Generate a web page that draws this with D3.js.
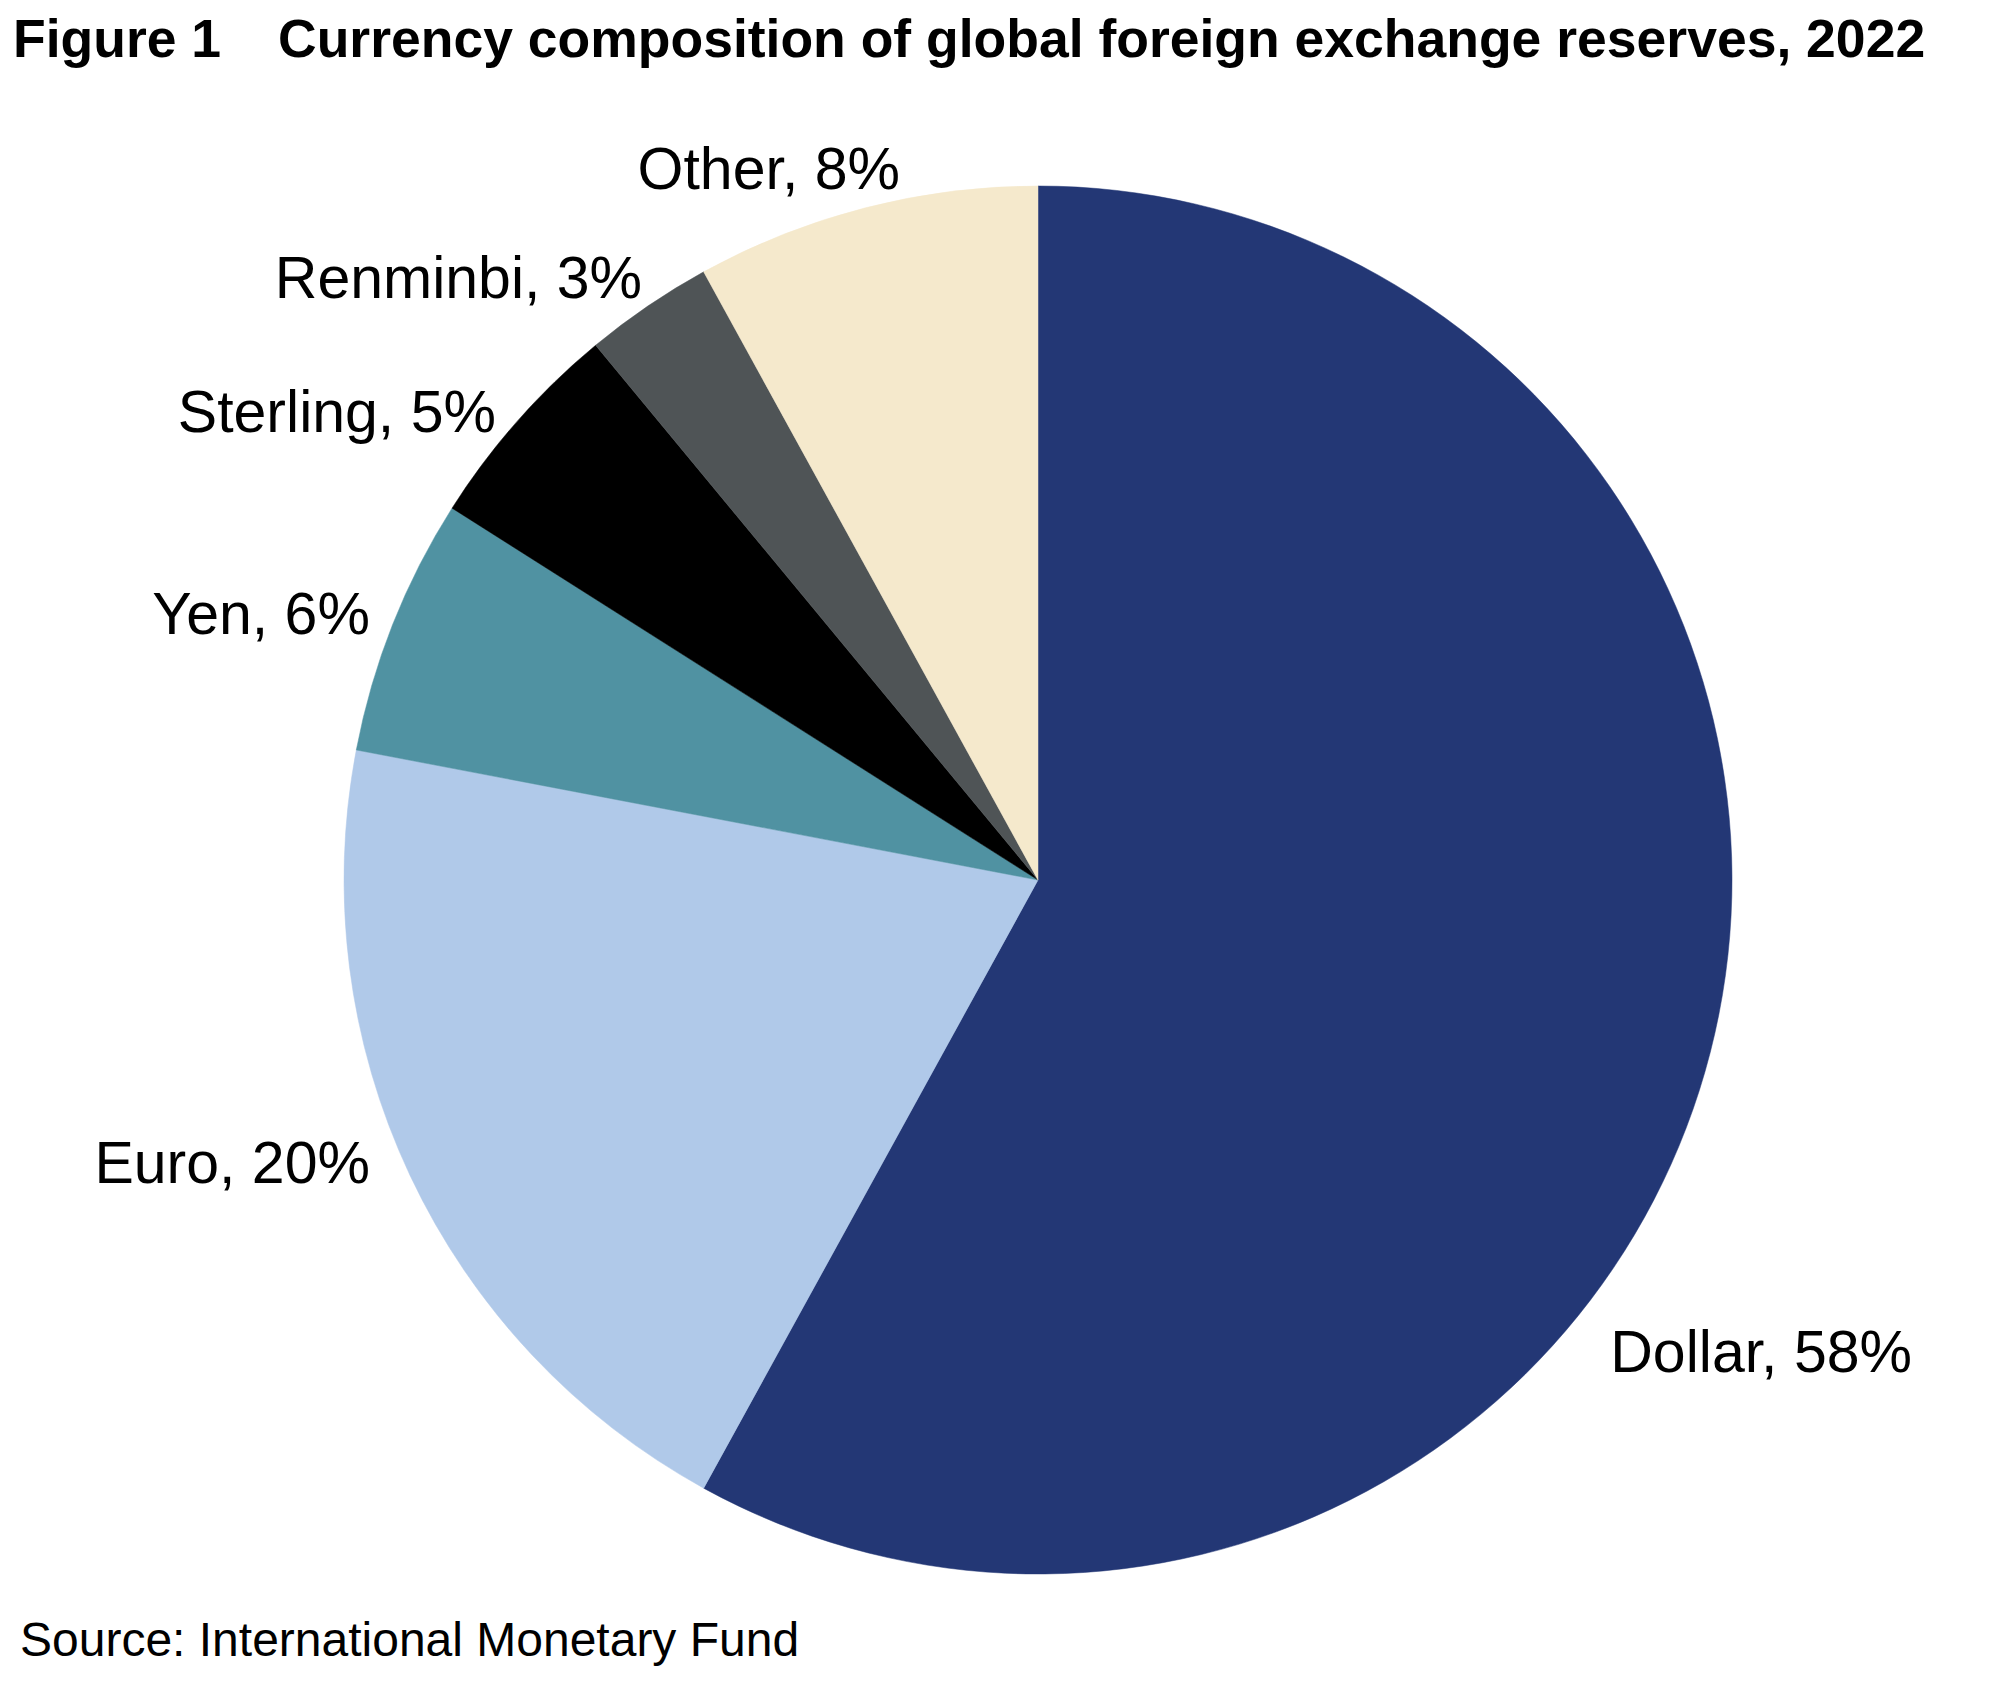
<!DOCTYPE html>
<html>
<head>
<meta charset="utf-8">
<script src="https://cdn.jsdelivr.net/npm/d3@7"></script>
<style>
  html, body { margin: 0; padding: 0; background: #ffffff; }
  svg { display: block; }
  text { font-family: "Liberation Sans", Arial, Helvetica, sans-serif; fill: #000; }
</style>
</head>
<body>
<svg id="chart" width="2000" height="1702"></svg>
<script>
// ---- data ----
const categories = ["Dollar", "Euro", "Yen", "Sterling", "Renminbi", "Other"];
const shares = [58, 20, 6, 5, 3, 8];
const colors = ["#233775", "#b0c9e9", "#5092a2", "#000000", "#4f5456", "#f5e9cc"];
const titleNumber = "Figure 1";
const titleText = "Currency composition of global foreign exchange reserves, 2022";
const sourceText = "Source: International Monetary Fund";

// ---- layout ----
const W = 2000, H = 1702;
const cx = 1038, cy = 880, R = 694;
// label nudges (annotation placement only)
const labelNudge = {
  Dollar: [-129, 291], Euro: [-13, -26], Yen: [5, 0],
  Sterling: [1, 10], Renminbi: [11, -4], Other: [42, -10]
};

const data = categories.map((c, i) => ({ name: c, value: shares[i], color: colors[i] }));

const svg = d3.select("#chart");
svg.append("rect").attr("width", W).attr("height", H).attr("fill", "#fff");

svg.append("text").attr("x", 13).attr("y", 57)
  .attr("font-size", 53.5).attr("font-weight", "bold").text(titleNumber);
svg.append("text").attr("x", 278).attr("y", 57)
  .attr("font-size", 53.5).attr("font-weight", "bold").text(titleText);

const pie = d3.pie().sort(null).value(d => d.value);
const arc = d3.arc().innerRadius(0).outerRadius(R);
const labelArc = d3.arc().innerRadius(R + 30).outerRadius(R + 30);

const g = svg.append("g").attr("transform", `translate(${cx},${cy})`);
const arcs = pie(data);

g.selectAll("path.slice").data(arcs).enter().append("path")
  .attr("class", "slice")
  .attr("d", arc)
  .attr("fill", d => d.data.color)
  .attr("stroke", d => d.data.color)
  .attr("stroke-width", 0.5);

g.selectAll("text.lbl").data(arcs).enter().append("text")
  .attr("class", "lbl")
  .attr("font-size", 59)
  .attr("dy", "0.35em")
  .attr("text-anchor", d => {
    const [x] = labelArc.centroid(d);
    return d.data.name === "Dollar" ? "start" : (x < 0 ? "end" : "start");
  })
  .attr("x", d => labelArc.centroid(d)[0] + labelNudge[d.data.name][0])
  .attr("y", d => labelArc.centroid(d)[1] + labelNudge[d.data.name][1])
  .text(d => `${d.data.name}, ${d.data.value}%`);

svg.append("text").attr("x", 20).attr("y", 1656)
  .attr("font-size", 48).text(sourceText);
</script>
</body>
</html>
